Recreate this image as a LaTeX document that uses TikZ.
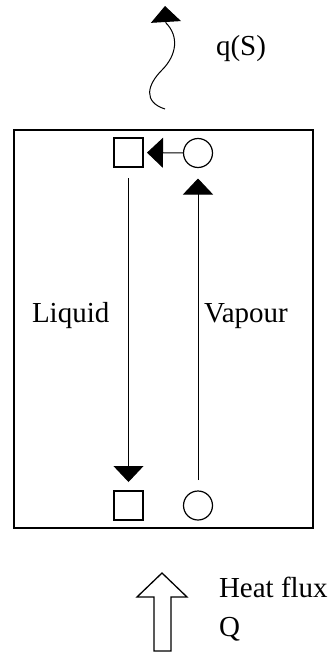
\documentclass[tikz,border=0pt]{standalone}
\usepackage{fontspec}
\setmainfont{Liberation Serif}
\usetikzlibrary{arrows.meta}
\begin{document}
\begin{tikzpicture}[x=1pt,y=-1pt,
  every node/.style={inner sep=0pt,outer sep=0pt},
  sq/.style={draw,line width=1.2pt,minimum width=29pt,minimum height=29pt},
  ci/.style={draw,circle,line width=1.2pt,minimum size=29pt},
  lbl/.style={anchor=base west,font=\fontsize{29}{34}\selectfont},
  flow/.style={line width=1pt,-{Triangle[length=16pt,width=30pt]}}]
\useasboundingbox (0,0) rectangle (330,653);
% vessel
\node[draw,line width=1.6pt,minimum width=299pt,minimum height=398pt] (vessel) at (163.5,329) {};
% squares and circles
\node[sq] (st) at (128.5,152.5) {};
\node[ci] (ct) at (198,153) {};
\node[sq] (sb) at (128.5,505.5) {};
\node[ci] (cb) at (198,505.5) {};
% connectors
\draw[flow,shorten >=4pt] (ct) -- (st);
\draw[flow,shorten <=11pt,shorten >=9pt] (st.south) -- (sb.north);
\draw[flow,shorten <=11pt,shorten >=11pt] (cb.north) -- (ct.south);
% labels
\node[lbl] (liq) at (32,322) {Liquid};
\node[lbl] (vap) at (204,322) {Vapour};
% wavy arrow
\coordinate (w0) at (165,109);
\coordinate (w1) at (162,70);
\coordinate (w2) at (166,23);
\coordinate (w3) at (165,6);
\draw[line width=1pt] (w0) .. controls (143,102) and (147,85) .. (w1)
   .. controls (177,55) and (179,36) .. (w2);
\draw[flow] (w2) -- (w3);
\node[lbl] (qs) at (216,55) {q(S)};
% heat flux arrow
\draw[line width=1.3pt,line join=miter] (162,573) -- (187,597) -- (171,597) -- (171,651)
   -- (154,651) -- (154,597) -- (137,597) -- cycle;
\node[lbl] (hf) at (219,597) {Heat flux};
\node[lbl] (q) at (219,636) {Q};
\end{tikzpicture}
\end{document}
